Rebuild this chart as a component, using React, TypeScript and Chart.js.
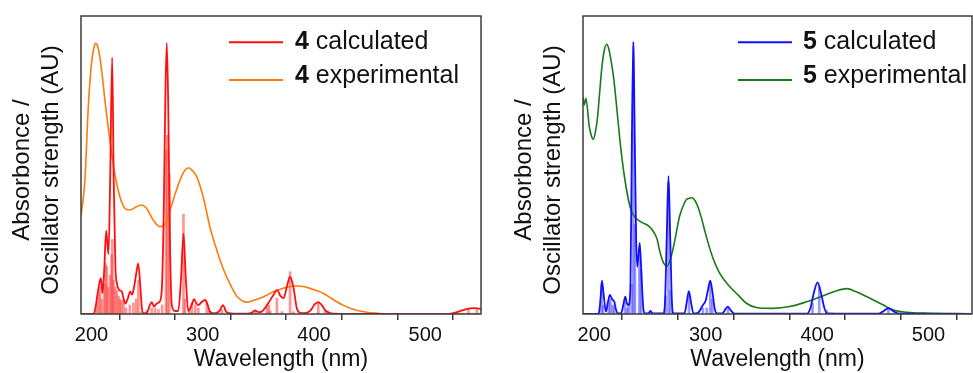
import React, { useEffect, useRef } from "react";
import { Chart, registerables } from "chart.js";
Chart.register(...registerables);

const FONT = "'Liberation Sans', Arial, sans-serif";

// ---- Panel 4 (left) ----
const calc4: [number, number][] = [
  [190.6, 0], [202, 0], [204, 0.03], [206, 0.08], [208.4, 0.12], [209.9, 0.07], [211.5, 0.15],
  [213.2, 0.28], [215.3, 0.2], [216.8, 0.45], [218.6, 0.86], [220, 0.45], [221.5, 0.16],
  [223, 0.1], [225, 0.08], [227.3, 0.075], [229, 0.05], [230.5, 0.035], [232.5, 0.05],
  [234.8, 0.075], [236.5, 0.065], [237.8, 0.08], [240, 0.13], [242, 0.17], [243.8, 0.1],
  [245.3, 0.02], [247, 0.002], [250, 0.005], [252.5, 0.03], [254.2, 0.04], [256.2, 0.025],
  [258.7, 0.035], [261, 0.04], [263.2, 0.08], [265, 0.35], [266.5, 0.75], [267.7, 0.91],
  [269, 0.7], [270.5, 0.25], [272.2, 0.03], [275, 0.01], [278, 0.01], [280.5, 0.12],
  [282.7, 0.27], [284.8, 0.12], [287, 0.01], [290, 0.03], [292.3, 0.05], [294.3, 0.035],
  [296.2, 0.03], [299, 0.04], [302.2, 0.047], [304.5, 0.03], [306.5, 0.008], [310, 0.002],
  [315, 0.01], [318.2, 0.03], [321, 0.008], [325, 0.002], [340, 0.001], [344, 0.004],
  [347, 0.012], [350, 0.006], [353, 0.008], [356, 0.02], [359.6, 0.04], [363, 0.06],
  [366.8, 0.08], [370, 0.06], [372.7, 0.053], [375.5, 0.09], [378.5, 0.125], [381.5, 0.09],
  [384.5, 0.02], [387, 0.005], [392, 0.003], [397, 0.012], [400.5, 0.032], [403.9, 0.04],
  [407, 0.03], [410, 0.013], [413, 0.005], [420, 0.001], [430, 0], [520, 0], [525, 0.003],
  [530, 0.008], [535, 0.014], [540, 0.019], [545, 0.02], [550.1, 0.017],
];

const exp4: [number, number][] = [
  [190.6, 0.33], [193, 0.4], [194.3, 0.46], [197, 0.685], [200, 0.84], [202, 0.89],
  [204, 0.908], [205.8, 0.895], [207.5, 0.864], [210, 0.79], [212, 0.72], [216.5, 0.584],
  [221, 0.47], [225.5, 0.394], [230, 0.355], [234.5, 0.349], [240.5, 0.36], [245, 0.366],
  [249.5, 0.355], [255.5, 0.315], [261.5, 0.293], [266.6, 0.304], [270.7, 0.349], [275, 0.4],
  [279.7, 0.45], [283.5, 0.48], [287.3, 0.491], [291, 0.48], [294.7, 0.46], [300.6, 0.39],
  [306.6, 0.29], [312.6, 0.215], [318.6, 0.15], [324.6, 0.1], [330.6, 0.06], [336, 0.043],
  [340, 0.04], [345, 0.045], [351.5, 0.053], [357.5, 0.063], [363.5, 0.075], [369.5, 0.083],
  [375.5, 0.09], [384.5, 0.094], [390.5, 0.092], [396.5, 0.086], [402.5, 0.078],
  [408.5, 0.069], [414.5, 0.055], [420.5, 0.041], [426.5, 0.029], [432.5, 0.019],
  [440, 0.011], [447.5, 0.006], [455, 0.003], [462.5, 0.001], [480, 0], [550.1, 0],
];

const sticks4: [number, number][] = [
  [204.5, 0.03], [206.3, 0.07], [207.8, 0.09], [209.3, 0.05], [211.5, 0.1], [212.6, 0.17],
  [213.8, 0.16], [215, 0.09], [216.8, 0.13], [218.1, 0.2], [218.8, 0.25], [219.8, 0.114],
  [221.3, 0.09], [222.8, 0.08], [224.3, 0.06], [225.5, 0.05], [227, 0.045], [228.8, 0.047],
  [231, 0.02], [234.5, 0.03], [237.7, 0.037], [240.2, 0.05], [242.2, 0.114], [245, 0.008],
  [249.7, 0.013], [254.2, 0.02], [257.2, 0.02], [260.2, 0.015], [263.5, 0.03], [267, 0.55],
  [268.2, 0.6], [270, 0.47], [282.7, 0.335], [284, 0.05], [288, 0.01], [290.2, 0.037],
  [293.2, 0.03], [296, 0.02], [303.7, 0.04], [306, 0.01], [317.2, 0.015], [347, 0.01],
  [357.7, 0.022], [359.5, 0.03], [360.7, 0.01], [366.7, 0.053], [371.2, 0.008],
  [378.5, 0.142], [381.5, 0.008], [403.9, 0.04], [410, 0.013], [412.4, 0.01],
  [538.9, 0.015], [546.4, 0.015],
];

// ---- Panel 5 (right) ----
const calc5: [number, number][] = [
  [189.9, 0], [203, 0], [204.5, 0.01], [205.8, 0.06], [206.9, 0.112], [208.3, 0.07],
  [210.5, 0.008], [212.3, 0.04], [214.1, 0.064], [216, 0.05], [218, 0.041], [219.5, 0.015],
  [221, 0.002], [224, 0.002], [226.3, 0.035], [227.9, 0.058], [229.3, 0.035], [230.9, 0.03],
  [232.5, 0.1], [233.8, 0.6], [235.1, 0.914], [236.3, 0.6], [237.6, 0.25], [238.7, 0.159],
  [240.8, 0.239], [242.5, 0.12], [244, 0.02], [245.5, 0.002], [248.5, 0.002], [250.4, 0.01],
  [252.5, 0.002], [262, 0.002], [263.5, 0.04], [265, 0.25], [266.6, 0.463], [268.2, 0.25],
  [269.7, 0.04], [271, 0.002], [281, 0.002], [283, 0.04], [284.9, 0.077], [286.8, 0.04],
  [289, 0.002], [293, 0.004], [297.5, 0.03], [300, 0.045], [302, 0.08], [304.1, 0.112],
  [306.2, 0.07], [308, 0.02], [310, 0.002], [315, 0.002], [318, 0.018], [320, 0.025],
  [322.5, 0.012], [326, 0.001], [391, 0.001], [394, 0.02], [397, 0.07], [400.4, 0.106],
  [403.5, 0.07], [406.5, 0.02], [409, 0.002], [455, 0.001], [459, 0.008], [464, 0.02],
  [469, 0.008], [474, 0.001], [539, 0],
];

const exp5: [number, number][] = [
  [189.9, 0.727], [191, 0.701], [192.5, 0.724], [195.5, 0.63], [197.5, 0.597], [199.1, 0.586],
  [201, 0.61], [203, 0.662], [205, 0.75], [206.9, 0.83], [209, 0.885], [211.1, 0.905],
  [213, 0.89], [215, 0.852], [217.5, 0.79], [219.5, 0.718], [221.8, 0.63], [224, 0.55],
  [228.5, 0.427], [233, 0.349], [237.5, 0.321], [243.5, 0.306], [249.5, 0.293], [254, 0.271],
  [256.5, 0.25], [258.5, 0.215], [262.4, 0.17], [265.4, 0.161], [268, 0.18], [270.5, 0.215],
  [273.5, 0.27], [276.5, 0.327], [279.5, 0.36], [282.5, 0.383], [285, 0.388], [287.6, 0.39],
  [290.5, 0.38], [293, 0.36], [296, 0.325], [299, 0.282], [305, 0.204], [312.5, 0.137],
  [321.5, 0.092], [329, 0.064], [336.5, 0.036], [345.5, 0.022], [360.5, 0.019],
  [375.5, 0.025], [390.5, 0.041], [405.5, 0.061], [417.5, 0.078], [426.5, 0.085],
  [435.5, 0.074], [447.5, 0.053], [459.5, 0.03], [468.5, 0.013], [480.5, 0.006],
  [495.5, 0.003], [539, 0.001],
];

const sticks5: [number, number][] = [
  [206.6, 0.1], [208, 0.03], [213, 0.04], [214.5, 0.05], [216.5, 0.03], [218, 0.025],
  [227.5, 0.04], [229.5, 0.02], [230.9, 0.036], [233.5, 0.1], [235.1, 0.9], [236.5, 0.3],
  [240.5, 0.2], [242, 0.15], [250.4, 0.008], [264, 0.06], [266.6, 0.44], [268.3, 0.08],
  [285, 0.06], [297.5, 0.02], [301, 0.02], [304.1, 0.1], [306, 0.05], [320, 0.02],
  [395.9, 0.036], [401.9, 0.092], [408.5, 0.013], [464, 0.019],
];

const xTicks = [200, 250, 300, 350, 400, 450, 500, 550];
const xLabelled = [200, 300, 400, 500];
const yTitle = ["Absorbonce /", "Oscillator strength (AU)"];
const xTitle = "Wavelength (nm)";
const legendLabels = ["calculated", "experimental"];

type PanelCfg = {
  id: string;
  num: string;
  calc: [number, number][];
  exp: [number, number][];
  sticks: [number, number][];
  xMin: number;
  xMax: number;
  calcColor: string;
  expColor: string;
  stickColor: string;
  padLeft: number;
  padRight: number;
  legLine: [number, number];
  legText: number;
  yTitleX: number;
};

function makePlugin(cfg: PanelCfg) {
  return {
    id: "frameLegend" + cfg.id,
    afterDraw(chart: any) {
      const { ctx, chartArea: a } = chart;
      ctx.save();
      ctx.strokeStyle = "#3c3c3c";
      ctx.lineWidth = 1.5;
      ctx.strokeRect(a.left, a.top, a.right - a.left, a.bottom - a.top);

      // y-axis title (two lines, rotated)
      ctx.save();
      ctx.fillStyle = "#111";
      ctx.font = `24px ${FONT}`;
      ctx.textAlign = "center";
      ctx.textBaseline = "middle";
      ctx.translate(cfg.yTitleX, 170);
      ctx.rotate(-Math.PI / 2);
      yTitle.forEach((line, i) => ctx.fillText(line, 0, i * 29));
      ctx.restore();

      const rows = [
        { color: cfg.calcColor, label: legendLabels[0], lineY: 42.3, textY: 41.7 },
        { color: cfg.expColor, label: legendLabels[1], lineY: 80, textY: 76.5 },
      ];
      for (const r of rows) {
        ctx.strokeStyle = r.color;
        ctx.lineWidth = 2;
        ctx.beginPath();
        ctx.moveTo(cfg.legLine[0], r.lineY);
        ctx.lineTo(cfg.legLine[1], r.lineY);
        ctx.stroke();
        ctx.fillStyle = "#111";
        ctx.textBaseline = "middle";
        ctx.textAlign = "left";
        ctx.font = `bold 25px ${FONT}`;
        ctx.fillText(cfg.num, cfg.legText, r.textY);
        const w = ctx.measureText(cfg.num).width;
        ctx.font = `25px ${FONT}`;
        ctx.fillText(" " + r.label, cfg.legText + w, r.textY);
      }
      ctx.restore();
    },
  };
}

function Panel({ cfg, left, width }: { cfg: PanelCfg; left: number; width: number }) {
  const ref = useRef<HTMLCanvasElement>(null);
  useEffect(() => {
    if (!ref.current) return;
    const toXY = (arr: [number, number][]) => arr.map(([x, y]) => ({ x, y }));
    const chart = new Chart(ref.current, {
      type: "line",
      data: {
        datasets: [
          {
            type: "line",
            data: toXY(cfg.calc),
            borderColor: cfg.calcColor,
            borderWidth: 1.8,
            pointRadius: 0,
            cubicInterpolationMode: "monotone",
            order: 0,
          } as any,
          {
            type: "line",
            data: toXY(cfg.exp),
            borderColor: cfg.expColor,
            borderWidth: 1.6,
            pointRadius: 0,
            cubicInterpolationMode: "monotone",
            order: 1,
          } as any,
          {
            type: "bar",
            data: toXY(cfg.sticks),
            backgroundColor: cfg.stickColor,
            barThickness: 2,
            order: 2,
          } as any,
        ],
      },
      options: {
        animation: false,
        responsive: false,
        devicePixelRatio: 1,
        layout: { padding: { left: cfg.padLeft, right: cfg.padRight, top: 16, bottom: 0 } },
        plugins: { legend: { display: false }, tooltip: { enabled: false } },
        scales: {
          x: {
            type: "linear",
            min: cfg.xMin,
            max: cfg.xMax,
            offset: false,
            afterBuildTicks: (s: any) => {
              s.ticks = xTicks.filter((v) => v <= cfg.xMax + 0.5).map((v) => ({ value: v }));
            },
            afterFit: (s: any) => {
              s.height = 59;
            },
            ticks: {
              callback: (v: any) => (xLabelled.includes(Number(v)) ? String(v) : ""),
              font: { family: FONT, size: 20 },
              color: "#111",
              padding: 3,
              maxRotation: 0,
              autoSkip: false,
            },
            grid: {
              drawOnChartArea: false,
              drawTicks: true,
              tickLength: 6,
              color: "#3c3c3c",
              lineWidth: 1.5,
            },
            border: { display: false },
            title: {
              display: true,
              text: xTitle,
              font: { family: FONT, size: 23 },
              color: "#111",
              padding: { top: 0, bottom: 0 },
            },
          },
          y: {
            type: "linear",
            min: 0,
            max: 1,
            afterFit: (s: any) => {
              s.width = 81;
            },
            ticks: { display: false },
            grid: { display: false },
            border: { display: false },
            title: { display: false },
          },
        },
      } as any,
      plugins: [makePlugin(cfg)],
    });
    return () => chart.destroy();
  }, [cfg]);
  return (
    <canvas
      ref={ref}
      width={width}
      height={373}
      style={{ position: "absolute", left, top: 0, width, height: 373 }}
    />
  );
}

const leftCfg: PanelCfg = {
  id: "4",
  num: "4",
  calc: calc4,
  exp: exp4,
  sticks: sticks4,
  xMin: 190.6,
  xMax: 550.1,
  calcColor: "#ff1010",
  expColor: "#ff7a0a",
  stickColor: "rgba(255, 60, 60, 0.55)",
  padLeft: 0,
  padRight: 9,
  legLine: [229, 283],
  legText: 295,
  yTitleX: 22,
};

const rightCfg: PanelCfg = {
  id: "5",
  num: "5",
  calc: calc5,
  exp: exp5,
  sticks: sticks5,
  xMin: 189.9,
  xMax: 539,
  calcColor: "#1010ff",
  expColor: "#1a7a1a",
  stickColor: "rgba(70, 70, 255, 0.55)",
  padLeft: 12,
  padRight: 1,
  legLine: [248, 302],
  legText: 313,
  yTitleX: 34,
};

export default function App() {
  return (
    <div
      style={{
        position: "fixed",
        left: 0,
        top: 0,
        width: 973,
        height: 373,
        background: "#fff",
        overflow: "hidden",
      }}
    >
      <Panel cfg={leftCfg} left={0} width={490} />
      <Panel cfg={rightCfg} left={490} width={483} />
    </div>
  );
}
